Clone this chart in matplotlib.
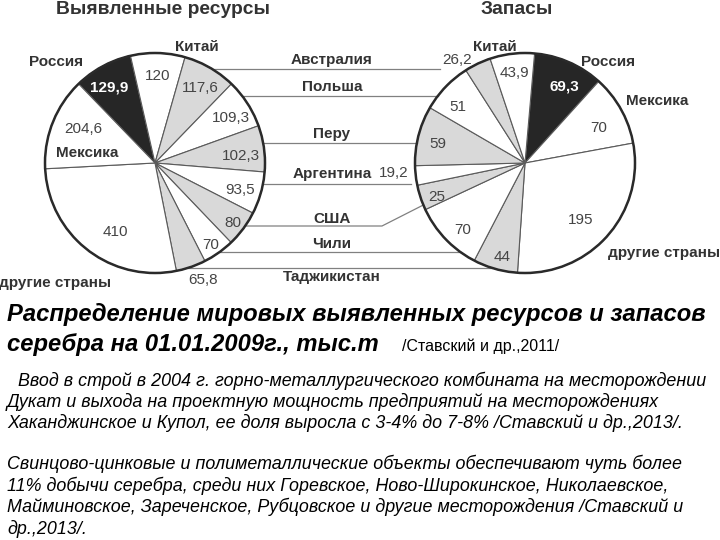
import matplotlib
matplotlib.use("Agg")
import matplotlib.pyplot as plt
from matplotlib.patches import Circle
import numpy as np

# ---------------- data ----------------
res_countries = ["Россия", "Китай", "Австралия", "Польша", "Перу", "Аргентина",
                 "США", "Чили", "Таджикистан", "другие страны", "Мексика"]
res_values = [129.9, 120, 117.6, 109.3, 102.3, 93.5, 80, 70, 65.8, 410, 204.6]
res_labels = ["129,9", "120", "117,6", "109,3", "102,3", "93,5", "80", "70", "65,8", "410", "204,6"]

zap_countries = ["Россия", "Мексика", "другие страны", "Таджикистан", "Чили", "США",
                 "Аргентина", "Перу", "Польша", "Австралия", "Китай"]
zap_values = [69.3, 70, 195, 44, 70, 25, 19.2, 59, 51, 26.2, 43.9]
zap_labels = ["69,3", "70", "195", "44", "70", "25", "19,2", "59", "51", "26,2", "43,9"]

middle_names = ["Австралия", "Польша", "Перу", "Аргентина", "США", "Чили", "Таджикистан"]

title_left = "Выявленные ресурсы"
title_right = "Запасы"
caption1 = "Распределение мировых выявленных ресурсов и запасов"
caption2 = "серебра на 01.01.2009г., тыс.т"
caption2_src = "/Ставский и др.,2011/"
para1 = ["Ввод в строй в 2004 г. горно-металлургического комбината на месторождении",
         "Дукат и выхода на проектную мощность предприятий на месторождениях",
         "Хаканджинское и Купол, ее доля выросла с 3-4% до 7-8% /Ставский и др.,2013/."]
para2 = ["Свинцово-цинковые и полиметаллические объекты обеспечивают чуть более",
         "11% добычи серебра, среди них Горевское, Ново-Широкинское, Николаевское,",
         "Майминовское, Зареченское, Рубцовское и другие месторождения /Ставский и",
         "др.,2013/."]

# ---------------- style ----------------
BLACK = "#262626"
GRAY = "#d9d9d9"
WHITE = "#ffffff"
TXT = "#333333"
NUM = "#444444"

color_map = {"Россия": BLACK, "Австралия": GRAY, "Перу": GRAY, "США": GRAY, "Таджикистан": GRAY}

W, H = 720, 540
fig = plt.figure(figsize=(7.2, 5.4), dpi=100)
ax = fig.add_axes([0, 0, 1, 1])
ax.set_xlim(0, W)
ax.set_ylim(0, H)
ax.set_aspect("equal")
ax.axis("off")


def Y(y):
    return H - y


L_C = (155, Y(163)); L_R = 110
R_C = (525, Y(163)); R_R = 110

# label radial distances (fraction of radius) for value labels
res_dist = [0.80, 0.79, 0.80, 0.80, 0.78, 0.81, 0.89, 0.90, 1.15, 0.72, 0.72]
zap_dist = [0.78, 0.74, 0.72, 0.88, 0.83, 0.86, 1.20, 0.81, 0.79, 1.12, 0.82]


def draw_pie(values, countries, labels, center, radius, start, dists, ang_adj):
    cols = [color_map.get(c, WHITE) for c in countries]
    wedges, _ = ax.pie(values, colors=cols, startangle=start, counterclock=False,
                       center=center, radius=radius, frame=True,
                       wedgeprops=dict(edgecolor="#5a5a5a", linewidth=0.8))
    ax.add_patch(Circle(center, radius, fill=False, edgecolor="#2a2a2a", linewidth=1.8, zorder=5))
    for w, lab, d, c, adj in zip(wedges, labels, dists, countries, ang_adj):
        th = np.deg2rad((w.theta1 + w.theta2) / 2 + adj)
        x = center[0] + d * radius * np.cos(th)
        y = center[1] + d * radius * np.sin(th)
        if c == "Россия":
            ax.text(x, y, lab, color="white", fontsize=11, fontweight="bold",
                    ha="center", va="center", family="Liberation Sans", zorder=6)
        else:
            ax.text(x, y, lab, color=NUM, fontsize=11, ha="center", va="center",
                    family="Liberation Sans", zorder=6)
    return wedges


res_adj = [3, 0, -1, -2, -3, -2, -1, -1, 3, 8, -4]
zap_adj = [-4, -4, -4, 2, 3, 3, -2, 2, 4, 8, 0]
draw_pie(res_values, res_countries, res_labels, L_C, L_R, 134, res_dist, res_adj)
draw_pie(zap_values, zap_countries, zap_labels, R_C, R_R, 85, zap_dist, zap_adj)

ax.set_xlim(0, W)
ax.set_ylim(0, H)
ax.axis("off")

bold = dict(fontsize=11, fontweight="bold", color=TXT, family="Liberation Sans",
            ha="center", va="center")

# titles
ax.text(163, Y(10), title_left, fontsize=13.9, fontweight="bold", color=TXT,
        family="Liberation Sans", ha="center", va="center")
ax.text(517, Y(9), title_right, fontsize=13.9, fontweight="bold", color=TXT,
        family="Liberation Sans", ha="center", va="center")

# country labels around pies
ax.text(56, Y(62), "Россия", **bold)
ax.text(197, Y(47), "Китай", **bold)
ax.text(87, Y(153), "Мексика", **bold)
ax.text(55, Y(283), "другие страны", **bold)
ax.text(495, Y(47), "Китай", **bold)
ax.text(608, Y(62), "Россия", **bold)
ax.text(657, Y(101), "Мексика", **bold)
ax.text(664, Y(253), "другие страны", **bold)

# middle labels and connector lines
mid_text_y = [60, 87, 134, 174, 219, 244, 277]
line_y = [69, 96, 143, 184, 226, 252, 268]
line_end_override = {0: 440, 3: 411}


def circle_x(cx, cy_img, r, y, side):
    dy = y - cy_img
    dx = np.sqrt(max(r * r - dy * dy, 0))
    return cx + side * dx


for i, (name, ty, ly) in enumerate(zip(middle_names, mid_text_y, line_y)):
    ax.text(332, Y(ty), name, **bold)
    x0 = circle_x(L_C[0], 163, L_R, ly, +1)
    if name == "США":
        ax.plot([x0, 382, circle_x(R_C[0], 163, R_R, 205, -1)], [Y(ly), Y(ly), Y(205)],
                color="#808080", lw=0.9, zorder=1)
        continue
    x1 = line_end_override.get(i, circle_x(R_C[0], 163, R_R, ly, -1))
    ax.plot([x0, x1], [Y(ly), Y(ly)], color="#808080", lw=0.9, zorder=1)

# captions
ax.text(7, Y(314), caption1, fontsize=17.1, fontweight="bold", style="italic",
        color="black", family="Liberation Sans", ha="left", va="center")
ax.text(7, Y(345), caption2, fontsize=17.1, fontweight="bold", style="italic",
        color="black", family="Liberation Sans", ha="left", va="center")
ax.text(402, Y(346), caption2_src, fontsize=11.5, color="black",
        family="Liberation Sans", ha="left", va="center")

para_font = "Liberation Sans"
for k, line in enumerate(para1):
    ax.text(18 if k == 0 else 7, Y(381 + 21 * k), line, fontsize=12.9, style="italic",
            color="black", family=para_font, ha="left", va="center")
for k, line in enumerate(para2):
    ax.text(7, Y(464 + 21.5 * k), line, fontsize=12.9, style="italic", color="black",
            family=para_font, ha="left", va="center")

fig.savefig("out.png", dpi=100)
